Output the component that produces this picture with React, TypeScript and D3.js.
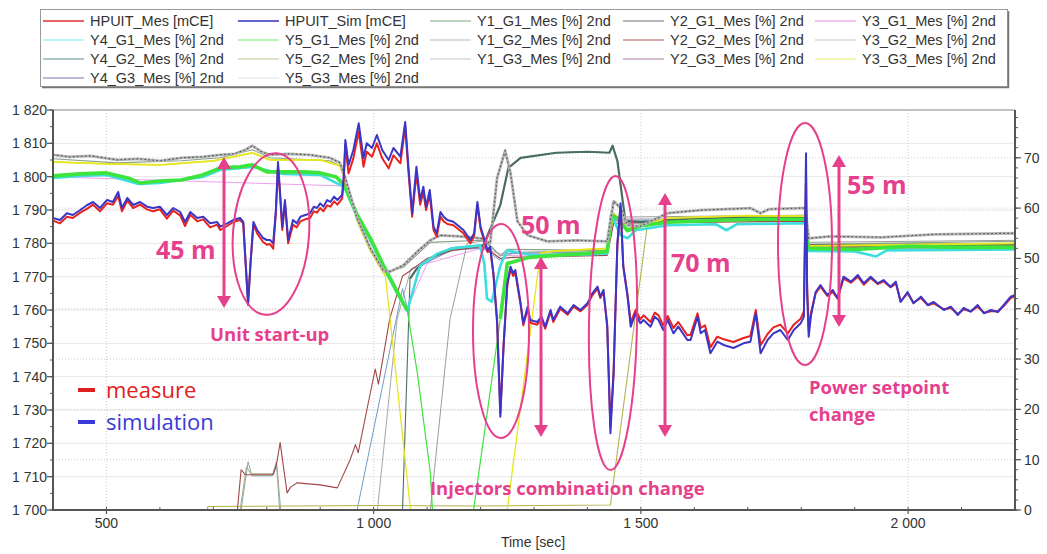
import React from 'react';
import * as d3 from 'd3';

type Pt = [number, number];

// ---------- axes / ticks ----------
const xTickValues = [500, 1000, 1500, 2000];
const xTickLabels = ['500', '1 000', '1 500', '2 000'];
const leftTickValues = [1700, 1710, 1720, 1730, 1740, 1750, 1760, 1770, 1780, 1790, 1800, 1810, 1820];
const leftTickLabels = ['1 700', '1 710', '1 720', '1 730', '1 740', '1 750', '1 760', '1 770', '1 780', '1 790', '1 800', '1 810', '1 820'];
const rightTickValues = [0, 10, 20, 30, 40, 50, 60, 70];
const rightTickLabels = ['0', '10', '20', '30', '40', '50', '60', '70'];

// ---------- HPUIT (left axis, mCE) ----------
const hpSim: Pt[] = [
  [400,1787.6],[413,1787],[426,1789],[437,1788.5],[451,1790],[464,1791.5],[475,1792.4],[488,1790.6],[501,1793],[512,1792.4],
  [522,1795.4],[529,1790.6],[539,1793.6],[550,1791.5],[563,1792.4],[576,1791],[587,1790.6],[600,1791],[613,1788.5],[625,1790.6],
  [638,1789.4],[647,1786.4],[657,1789.4],[670,1787.6],[681,1788],[694,1786],[707,1786.4],[713,1785],[726,1786],[737,1787],
  [750,1787.6],[756,1786.4],[760,1775],[765,1761.5],[770,1775],[775,1786.4],[782,1784],[793,1781.6],[800,1781],[806,1781],
  [812,1780],[817,1790],[821,1804.4],[825,1795],[829,1785],[834,1793],[840,1781],[849,1787],[856,1786],[863,1788],
  [872,1788.5],[881,1789],[888,1791],[894,1790.6],[900,1792],[906,1791],[913,1793],[919,1792.4],[926,1794],[932,1793],
  [941,1794.5],[944,1800],[947,1811],[953,1803.5],[962,1808],[972,1816],[981,1805.6],[987,1810],[997,1808.6],[1006,1812.5],
  [1016,1808],[1028,1805],[1037,1808.6],[1050,1806],[1059,1816.4],[1065,1803],[1072,1789],[1080,1803],[1087,1793],[1093,1797],
  [1098,1791],[1105,1796],[1112,1785],[1118,1783],[1125,1789.4],[1131,1788],[1138,1787],[1149,1786.5],[1168,1784],[1181,1781],
  [1188,1783],[1194,1792.4],[1200,1785],[1213,1778],[1218,1779],[1224,1771],[1231,1756],[1237,1728],[1243,1749],[1250,1768],
  [1256,1773],[1261,1771],[1265,1772],[1275,1762],[1280,1756],[1288,1761],[1293,1757],[1306,1756.4],[1314,1758],[1321,1755],
  [1331,1760],[1336,1757],[1349,1761],[1363,1759],[1374,1761.5],[1387,1760],[1400,1762],[1409,1765],[1419,1767],[1424,1764],
  [1430,1766],[1437,1755],[1443,1723],[1449,1741],[1456,1780],[1462,1792],[1467,1773],[1475,1764],[1481,1755],[1490,1759],
  [1499,1756],[1505,1757],[1518,1755],[1526,1758],[1533,1757],[1542,1754],[1550,1757],[1561,1753],[1570,1755],[1587,1751],
  [1593,1751],[1606,1758],[1612,1753],[1620,1754],[1630,1747],[1643,1750.5],[1655,1749.5],[1673,1748.6],[1692,1750],[1705,1750.5],
  [1715,1759],[1724,1747],[1737,1751],[1748,1753],[1761,1754],[1775,1751],[1786,1754],[1799,1756],[1805,1758],[1808,1795],
  [1809,1807],[1811,1765],[1814,1752],[1818,1758],[1827,1765.4],[1836,1767.5],[1849,1764.5],[1859,1766],[1868,1763.6],[1879,1770],
  [1893,1768.5],[1906,1770.5],[1917,1768],[1930,1770],[1943,1768],[1954,1769],[1967,1767],[1977,1768.5],[1986,1762.4],[1999,1765.4],
  [2010,1762],[2024,1764],[2037,1761.5],[2048,1762.4],[2067,1760],[2080,1761],[2093,1758.5],[2104,1760.6],[2117,1759.5],[2130,1761.5],
  [2142,1759],[2155,1760],[2168,1759.4],[2179,1761.5],[2192,1764],[2200,1764.5],
];

const hpMes: Pt[] = [
  [400,1786.8],[413,1786],[426,1788],[437,1787.6],[451,1789.2],[464,1790.4],[475,1791.6],[488,1789.6],[501,1792],[512,1791.6],
  [522,1794.2],[529,1789.6],[539,1792.8],[550,1790.6],[563,1791.6],[576,1790.2],[587,1789.6],[600,1790.2],[613,1787.4],[625,1789.8],
  [638,1788.4],[647,1785.2],[657,1788.6],[670,1786.6],[681,1787.2],[694,1784.8],[707,1785.6],[713,1784],[726,1785.2],[737,1786.4],
  [750,1787],[756,1786],[760,1775.5],[765,1762.5],[770,1775],[775,1785.6],[782,1783],[793,1780.4],[800,1779.6],[806,1779.8],
  [812,1778.4],[817,1789],[821,1803],[825,1794],[829,1784],[834,1792],[840,1780],[849,1785.6],[856,1784.8],[863,1786.6],
  [872,1787.2],[881,1787.6],[888,1789.6],[894,1789.2],[900,1790.6],[906,1789.6],[913,1791.4],[919,1791],[926,1792.6],[932,1791.6],
  [941,1793.4],[944,1799],[947,1809.5],[953,1801],[962,1805.5],[972,1813.5],[981,1803],[987,1807.5],[997,1806],[1006,1810],
  [1016,1805.5],[1028,1802.5],[1037,1806.4],[1050,1804],[1059,1815],[1065,1801.5],[1072,1788],[1080,1801],[1087,1791.6],[1093,1795.4],
  [1098,1790],[1105,1794.5],[1112,1784],[1118,1782],[1125,1788],[1131,1786.6],[1138,1785.8],[1149,1785.4],[1168,1783],[1181,1780],
  [1188,1782.2],[1194,1791.6],[1200,1784.4],[1213,1777.4],[1218,1778.2],[1224,1771],[1231,1757],[1237,1729],[1243,1749],[1250,1767.4],
  [1256,1772.2],[1261,1770.2],[1265,1771.2],[1275,1761.4],[1280,1755.4],[1288,1760.2],[1293,1756.2],[1306,1755.6],[1314,1757.4],[1321,1754.4],
  [1331,1759.4],[1336,1756.4],[1349,1760.4],[1363,1758.6],[1374,1761],[1387,1759.6],[1400,1761.6],[1409,1764.4],[1419,1766.4],[1424,1763.6],
  [1430,1765.4],[1437,1755.6],[1443,1725],[1449,1742],[1456,1779.4],[1462,1791],[1467,1773.4],[1475,1764.6],[1481,1756.2],[1490,1760],
  [1499,1757.2],[1505,1758.4],[1518,1756.4],[1526,1759.2],[1533,1758.4],[1542,1755.4],[1550,1758.2],[1561,1754.6],[1570,1756.4],[1587,1752.4],
  [1593,1752.6],[1606,1759],[1612,1754.6],[1620,1755.4],[1630,1748.8],[1643,1752],[1655,1751.2],[1673,1750.4],[1692,1751.6],[1705,1752.2],
  [1715,1760],[1724,1749.4],[1737,1752.8],[1748,1754.8],[1761,1755.6],[1775,1753],[1786,1755.6],[1799,1757.4],[1805,1759.6],[1808,1790],
  [1809,1800],[1811,1768],[1814,1754],[1818,1759],[1827,1765],[1836,1767],[1849,1764.2],[1859,1765.4],[1868,1763.4],[1879,1769.4],
  [1893,1768.2],[1906,1770],[1917,1767.6],[1930,1769.6],[1943,1767.8],[1954,1768.6],[1967,1766.8],[1977,1768],[1986,1762.6],[1999,1765],
  [2010,1762.2],[2024,1763.6],[2037,1761.4],[2048,1762],[2067,1760.2],[2080,1760.6],[2093,1758.8],[2104,1760.2],[2117,1759.6],[2130,1761],
  [2142,1759.2],[2155,1759.6],[2168,1759.6],[2179,1761.2],[2192,1763.6],[2200,1764.2],
];

// ---------- injector openings (right axis, %) ----------
const y1g1: Pt[] = [[400,69.8],[520,69],[640,69.4],[713,70],[773,71.6],[806,70],[918,69.4],[937,68.4],[947,65.4],[969,57.6],[994,51.6],[1018,47.2],[1055,48.2],[1106,53.2],[1200,53.6],[1218,52.6],[1237,50.5],[1250,51.8],[1437,51.6],[1449,58],[1475,56],[1550,57.8],[1808,58.4],[1814,52.8],[2200,53.4]];
const y2g1: Pt[] = [[400,70.6],[430,70.2],[470,70.4],[520,69.6],[560,69.8],[600,69.4],[640,70],[680,70.2],[713,70.6],[740,70.8],[760,71.6],[773,72.4],[790,71.2],[806,70.6],[840,70.8],[880,70.6],[918,70],[937,69],[947,66],[969,58],[994,52],[1018,47.6],[1031,47.4],[1055,48.6],[1082,51.4],[1106,53.6],[1125,54.6],[1160,54.4],[1200,54],[1218,53],[1231,66],[1246,71.4],[1256,67],[1269,57.4],[1288,54.6],[1325,53.4],[1380,53.6],[1437,53.4],[1449,61.4],[1462,60],[1475,56.6],[1499,56.4],[1550,59],[1612,59.6],[1660,59.8],[1705,60],[1724,59],[1740,59.8],[1799,60],[1808,60],[1814,54],[1855,54.4],[1950,54.2],[2050,54.8],[2200,55]];
const y3g1: Pt[] = [[400,66.2],[945,64.4],[1018,48.5],[1063,40],[1100,49],[1200,52],[1250,50.6],[1437,50.8],[1449,57.4],[1808,57.6],[1814,52],[2200,52]];
const y4g1: Pt[] = [[400,66],[450,66.4],[500,66.6],[560,64.8],[600,65],[680,66.2],[713,67.6],[773,68.2],[830,66.8],[900,66.6],[945,64.2],[969,58.2],[994,53.6],[1018,48.3],[1044,43],[1063,39.6],[1087,48.6],[1120,51],[1146,52],[1199,52.6],[1207,49],[1212,42],[1221,41.4],[1237,48.6],[1250,51.6],[1300,50.6],[1400,50.8],[1437,51],[1445,58.6],[1462,54.6],[1475,54],[1490,55.6],[1550,56.6],[1640,56.8],[1660,55.6],[1680,56.8],[1808,57],[1813,51.5],[1900,51.4],[1940,50.4],[1960,51.6],[2200,51.8]];
const y5g1: Pt[] = [[400,66.4],[450,66.8],[500,67],[540,66],[563,65],[600,65.4],[640,65.6],[680,66.6],[713,68],[750,68.2],[773,68.6],[800,67.2],[830,67.2],[870,67.2],[900,67],[930,66.2],[945,64.6],[969,58.7],[994,54],[1018,48.7],[1044,43.4],[1063,39.6],[1082,27],[1106,7.4],[1110,0],[1187,0],[1237,38],[1250,49],[1290,50.2],[1340,50.6],[1400,51],[1437,51.4],[1445,58.6],[1456,58],[1475,55.5],[1500,56.5],[1550,57.2],[1650,57.6],[1720,57.8],[1808,57.8],[1813,52],[1900,51.8],[2000,52.4],[2100,52.2],[2200,52.2]];
const y1g2: Pt[] = [[400,0],[1007,0],[1044,38],[1070,48],[1146,51.5],[1205,52.2],[1237,50],[1260,51],[1437,51.4],[1449,57.8],[1808,58],[1813,52.8],[2200,53]];
const y2g2: Pt[] = [[400,0],[745,0],[752,8],[760,7],[812,7],[818,9],[825,13.4],[838,3.4],[845,4.6],[857,5.4],[900,5],[932,4.4],[956,10],[966,13],[971,11.4],[994,23.4],[1003,28],[1009,25],[1030,38],[1054,46.5],[1068,47.5],[1100,50],[1146,51.6],[1205,52.4],[1237,50],[1260,50.2],[1437,50.6],[1449,57],[1808,57.4],[1813,52.2],[2200,52.4]];
const y3g2: Pt[] = [[400,0],[1106,0],[1143,38],[1175,53],[1205,53.5],[1237,50.5],[1260,51.2],[1437,51.6],[1449,58.2],[1808,58.6],[1813,53.2],[2200,53.6]];
const y4g2: Pt[] = [[400,0],[1054,0],[1068,46],[1081,48],[1105,50],[1146,52],[1205,52.6],[1237,60.6],[1252,68],[1275,70],[1342,71],[1400,71.2],[1441,71],[1447,72.4],[1456,69.4],[1471,57.4],[1500,57.2],[1600,58],[1700,58.2],[1808,58],[1813,52.6],[2200,52.8]];
const y5g2: Pt[] = [[400,0],[688,0],[690,0.7],[1000,0.9],[1200,0.8],[1443,1],[1512,56.6],[1550,57.6],[1808,57.8],[1813,52.4],[2200,52.6]];
const y1g3: Pt[] = [[400,0],[752,0],[765,9.6],[772,6.8],[810,6.8],[818,9.6],[824,0],[2200,0]];
const y2g3: Pt[] = [[400,0],[750,0],[762,8.6],[770,7.2],[812,7.2],[819,8.8],[826,0],[2200,0]];
const y3g3: Pt[] = [[400,69.2],[500,68.8],[600,68.6],[700,69.4],[773,71],[806,69.6],[900,69.6],[937,68.4],[947,65.5],[969,57.5],[994,51.5],[1018,47.2],[1022,46.5],[1069,0],[1250,0],[1312,51],[1340,51.5],[1437,52],[1449,59],[1475,55.8],[1550,58],[1700,58.5],[1808,58.4],[1814,52.5],[2200,53]];
const y4g3: Pt[] = [[400,0],[969,0],[1054,44],[1063,40],[1087,48.4],[1146,51.8],[1205,52],[1237,49.6],[1250,51],[1437,51.2],[1449,57.6],[1808,57.6],[1813,52],[2200,52.2]];
const y5g3: Pt[] = [[400,0],[2200,0]];

// legend entries (5 columns, row-major)
const legendNames = [
  'HPUIT_Mes [mCE]', 'HPUIT_Sim [mCE]', 'Y1_G1_Mes [%] 2nd', 'Y2_G1_Mes [%] 2nd', 'Y3_G1_Mes [%] 2nd',
  'Y4_G1_Mes [%] 2nd', 'Y5_G1_Mes [%] 2nd', 'Y1_G2_Mes [%] 2nd', 'Y2_G2_Mes [%] 2nd', 'Y3_G2_Mes [%] 2nd',
  'Y4_G2_Mes [%] 2nd', 'Y5_G2_Mes [%] 2nd', 'Y1_G3_Mes [%] 2nd', 'Y2_G3_Mes [%] 2nd', 'Y3_G3_Mes [%] 2nd',
  'Y4_G3_Mes [%] 2nd', 'Y5_G3_Mes [%] 2nd',
];
const legendColors = [
  '#e03030', '#3030c0', '#a8c4a8', '#a0a0a0', '#f2b0f0',
  '#a8f0f0', '#9ef09e', '#cfcfcf', '#c89090', '#d4d4d4',
  '#90b4b4', '#d6d6b0', '#d8d8d8', '#c4a4c0', '#f2f29a',
  '#a4a4c4', '#ececec',
];

const PINK = '#e6408c';

export default function App() {
  const L = 53, R = 1015, T = 110, B = 510;
  const x = d3.scaleLinear().domain([400, 2200]).range([L, R]);
  const yL = d3.scaleLinear().domain([1700, 1820]).range([B, T]);
  const yR = d3.scaleLinear().domain([0, 79.5]).range([B, T]);
  const lineL = d3.line<Pt>().x(d => x(d[0])).y(d => yL(d[1]));
  const lineR = d3.line<Pt>().x(d => x(d[0])).y(d => yR(d[1]));
  const bandLine = (min: number) =>
    d3.line<Pt>().defined(d => d[1] >= min).x(d => x(d[0])).y(d => yR(d[1]));

  const rightSeries: { d: Pt[]; c: string; w: number; bandW?: number; min?: number }[] = [
    { d: y5g3, c: '#e6e6e6', w: 1 },
    { d: y3g1, c: '#f0a0ee', w: 1 },
    { d: y1g3, c: '#86b0a4', w: 1 },
    { d: y2g3, c: '#a8a488', w: 1 },
    { d: y3g2, c: '#9c9c9c', w: 1 },
    { d: y1g2, c: '#a6a6a6', w: 1 },
    { d: y4g3, c: '#6f9cc6', w: 1 },
    { d: y5g2, c: '#b2b250', w: 1.1 },
    { d: y2g2, c: '#a04848', w: 1.1 },
    { d: y1g1, c: '#8aa08a', w: 1.1 },
    { d: y4g2, c: '#4a6e66', w: 1.1, bandW: 2.2, min: 45 },
    { d: y3g3, c: '#e6e61e', w: 1.3, bandW: 1.8, min: 46 },
    { d: y4g1, c: '#3fdede', w: 1.2, bandW: 2.6, min: 30 },
    { d: y5g1, c: '#3ce43c', w: 1.2, bandW: 3.6, min: 36 },
  ];

  const minorX = d3.range(400, 2201, 100);
  const minorRight = d3.range(0, 80, 2);
  const minorLeft = d3.range(1700, 1821, 5);

  const legendCols = [43, 238, 430, 623, 815];
  const legendRows = [21, 40, 59, 78];

  const arrows = [
    { x: 224, y1: 157, y2: 308 },
    { x: 541, y1: 257, y2: 437 },
    { x: 665, y1: 193, y2: 437 },
    { x: 839, y1: 155, y2: 327 },
  ];
  const ellipses = [
    { cx: 271, cy: 234, rx: 38, ry: 81, rot: 4 },
    { cx: 501, cy: 331, rx: 28, ry: 107, rot: 0 },
    { cx: 613, cy: 323, rx: 24, ry: 147, rot: 1 },
    { cx: 805, cy: 244, rx: 27, ry: 121, rot: 0 },
  ];

  return (
    <svg width={1047} height={554} style={{ position: 'absolute', left: 0, top: 0, background: '#fff' }}
      fontFamily="'Liberation Sans', Arial, sans-serif">
      <rect x={0} y={0} width={1047} height={554} fill="#fff" />
      {/* legend */}
      <rect x={40.5} y={9.5} width={967} height={77} fill="#fff" stroke="#9a9a9a" strokeWidth={1} />
      <line x1={42} y1={87.5} x2={1009} y2={87.5} stroke="#777" strokeWidth={1.5} />
      <line x1={1008.5} y1={11} x2={1008.5} y2={88} stroke="#777" strokeWidth={1.5} />
      {legendNames.map((n, i) => {
        const cx = legendCols[i % 5];
        const cy = legendRows[Math.floor(i / 5)];
        return (
          <g key={n}>
            <line x1={cx} y1={cy} x2={cx + 41} y2={cy} stroke={legendColors[i]} strokeWidth={1.3} />
            <text x={cx + 47} y={cy + 5} fontSize={14.5} fill="#333">{n}</text>
          </g>
        );
      })}

      {/* grid */}
      {leftTickValues.map(v => (
        <line key={'gl' + v} x1={L} x2={R} y1={yL(v)} y2={yL(v)} stroke="#e6e6e6" strokeWidth={1} />
      ))}
      {rightTickValues.map(v => (
        <line key={'gr' + v} x1={L} x2={R} y1={yR(v)} y2={yR(v)} stroke="#cfcfcf" strokeWidth={1} strokeDasharray="1 2" />
      ))}
      {xTickValues.map(v => (
        <line key={'gx' + v} x1={x(v)} x2={x(v)} y1={T} y2={B} stroke="#cfcfcf" strokeWidth={1} strokeDasharray="1 2" />
      ))}
      <line x1={L} x2={R} y1={T} y2={T} stroke="#b0b0b0" strokeWidth={1.5} />

      {/* right-axis series */}
      {rightSeries.map((s, i) => (
        <g key={'rs' + i}>
          <path d={lineR(s.d) || ''} fill="none" stroke={s.c} strokeWidth={s.w} strokeLinejoin="round" />
          {s.bandW ? (
            <path d={bandLine(s.min || 0)(s.d) || ''} fill="none" stroke={s.c} strokeWidth={s.bandW} strokeLinejoin="round" />
          ) : null}
        </g>
      ))}
      {/* gray speckled line */}
      <path d={lineR(y2g1) || ''} fill="none" stroke="#b4b4b4" strokeWidth={2.8} strokeLinejoin="round" />
      <path d={lineR(y2g1) || ''} fill="none" stroke="#505050" strokeWidth={1.2} strokeDasharray="1.5 2.5" />

      {/* HPUIT */}
      <path d={lineL(hpMes) || ''} fill="none" stroke="#e8231e" strokeWidth={2} strokeLinejoin="round" />
      <path d={lineL(hpSim) || ''} fill="none" stroke="#3b35c8" strokeWidth={2} strokeLinejoin="round" />

      {/* axes */}
      <line x1={L} x2={L} y1={T} y2={B + 1} stroke="#555" strokeWidth={2} />
      <line x1={L - 1} x2={R + 1} y1={B} y2={B} stroke="#555" strokeWidth={2} />
      <line x1={R} x2={R} y1={T} y2={B + 1} stroke="#555" strokeWidth={2} />
      {minorLeft.map(v => (
        <line key={'ml' + v} x1={L - 3} x2={L} y1={yL(v)} y2={yL(v)} stroke="#555" strokeWidth={1} />
      ))}
      {leftTickValues.map((v, i) => (
        <g key={'lt' + v}>
          <line x1={L - 6} x2={L} y1={yL(v)} y2={yL(v)} stroke="#555" strokeWidth={1.2} />
          <text x={47} y={yL(v) + 5} textAnchor="end" fontSize={14} fill="#333">{leftTickLabels[i]}</text>
        </g>
      ))}
      {minorRight.map(v => (
        <line key={'mr' + v} x1={R} x2={R + 3} y1={yR(v)} y2={yR(v)} stroke="#555" strokeWidth={1} />
      ))}
      {rightTickValues.map((v, i) => (
        <g key={'rt' + v}>
          <line x1={R} x2={R + 6} y1={yR(v)} y2={yR(v)} stroke="#555" strokeWidth={1.2} />
          <text x={1024} y={yR(v) + 5} fontSize={14} fill="#333">{rightTickLabels[i]}</text>
        </g>
      ))}
      {minorX.map(v => (
        <line key={'mx' + v} x1={x(v)} x2={x(v)} y1={B - 3} y2={B} stroke="#555" strokeWidth={1} />
      ))}
      {xTickValues.map((v, i) => (
        <g key={'xt' + v}>
          <line x1={x(v)} x2={x(v)} y1={B} y2={B + 4} stroke="#555" strokeWidth={1.2} />
          <text x={x(v)} y={528} textAnchor="middle" fontSize={14} fill="#333">{xTickLabels[i]}</text>
        </g>
      ))}
      <text x={533} y={547} textAnchor="middle" fontSize={14} fill="#333">Time  [sec]</text>

      {/* annotations */}
      <g fill="none" stroke={PINK} strokeWidth={2}>
        {ellipses.map((e, i) => (
          <ellipse key={'el' + i} cx={e.cx} cy={e.cy} rx={e.rx} ry={e.ry} transform={`rotate(${e.rot} ${e.cx} ${e.cy})`} />
        ))}
      </g>
      {arrows.map((a, i) => (
        <g key={'ar' + i}>
          <line x1={a.x} x2={a.x} y1={a.y1 + 10} y2={a.y2 - 10} stroke={PINK} strokeWidth={3} />
          <path d={`M${a.x - 7},${a.y1 + 12} L${a.x},${a.y1} L${a.x + 7},${a.y1 + 12} Z`} fill={PINK} />
          <path d={`M${a.x - 7},${a.y2 - 12} L${a.x},${a.y2} L${a.x + 7},${a.y2 - 12} Z`} fill={PINK} />
        </g>
      ))}
      <g fill={PINK} fontFamily="'Open Sans', 'Noto Sans', sans-serif" fontWeight="bold">
        <text x={156} y={259} fontSize={25}>45 m</text>
        <text x={521} y={234} fontSize={25}>50 m</text>
        <text x={671} y={272} fontSize={25}>70 m</text>
        <text x={847} y={194} fontSize={25}>55 m</text>
        <text x={210} y={341} fontSize={18.5}>Unit start-up</text>
        <text x={430} y={495} fontSize={18.5}>Injectors combination change</text>
        <text x={809} y={394} fontSize={18.5}>Power setpoint</text>
        <text x={809} y={421} fontSize={18.5}>change</text>
      </g>
      <g fontFamily="'Open Sans', 'Noto Sans', sans-serif" fontSize={22}>
        <line x1={78} x2={95} y1={390} y2={390} stroke="#e02020" strokeWidth={4} />
        <text x={106} y={398} fill="#e02020">measure</text>
        <line x1={78} x2={95} y1={422} y2={422} stroke="#3a3ad8" strokeWidth={4} />
        <text x={106} y={430} fill="#3a3ad8">simulation</text>
      </g>
    </svg>
  );
}
